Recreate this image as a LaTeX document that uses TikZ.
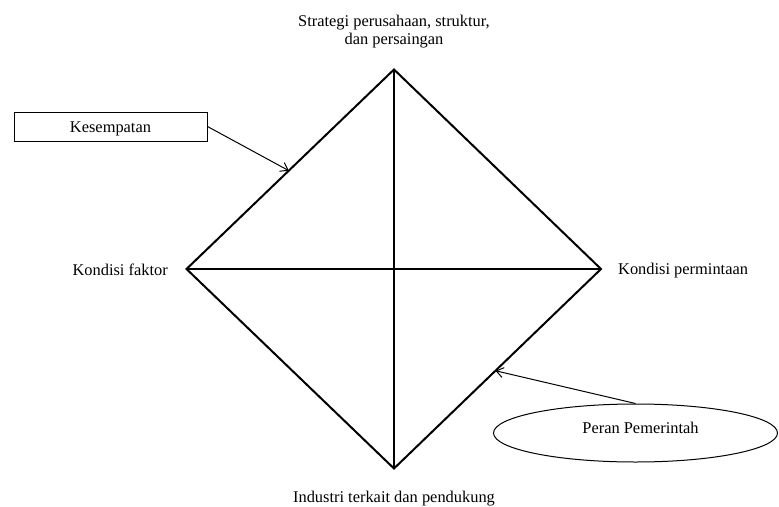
\documentclass[tikz,border=0pt]{standalone}
\usepackage{fontspec}
\setmainfont{Liberation Serif}
\usetikzlibrary{arrows.meta,shapes.geometric,calc}
\begin{document}
\begin{tikzpicture}[x=1pt,y=-1pt,
  every node/.style={font=\fontsize{16.4}{17.7}\selectfont, inner sep=0pt},
  diam/.style={line width=2pt},
  thinline/.style={line width=1pt},
  arr/.style={line width=1pt,-{Straight Barb[length=7pt,width=10pt]}}]
\useasboundingbox (0,0) rectangle (779,506);
% diamond vertices
\coordinate (T) at (394,69.5);
\coordinate (L) at (186.5,269);
\coordinate (R) at (601,269);
\coordinate (B) at (394,468.5);
\draw[diam] (T) -- (R) -- (B) -- (L) -- cycle;
\draw[diam] (T) -- (B);
\draw[diam] (L) -- (R);
% labels
\node[align=center, anchor=base] (strat) at (394,44.5) {Strategi perusahaan, struktur,\\ dan persaingan};
\node[anchor=base east] (fak) at (168,275) {Kondisi faktor};
\node[anchor=base west] (perm) at (618,274) {Kondisi permintaan};
\node[anchor=base] (ind) at (394,502) {Industri terkait dan pendukung};
% Kesempatan
\node[draw, thinline, minimum width=193pt, minimum height=29pt, text height=11.4pt, text depth=0pt] (kes) at (110.5,126.5) {Kesempatan};
\coordinate (kespt) at ($(T)!0.507!(L)$);
\draw[arr] (kes.east) -- (kespt);
% Peran Pemerintah
\node[draw, ellipse, thinline, minimum width=284pt, minimum height=58pt, text height=11pt, text depth=11pt] (gov) at (635.5,433) {\hspace*{10pt}Peran Pemerintah};
\coordinate (govpt) at ($(R)!0.51!(B)$);
\draw[arr] (gov.north) -- (govpt);
\end{tikzpicture}
\end{document}
